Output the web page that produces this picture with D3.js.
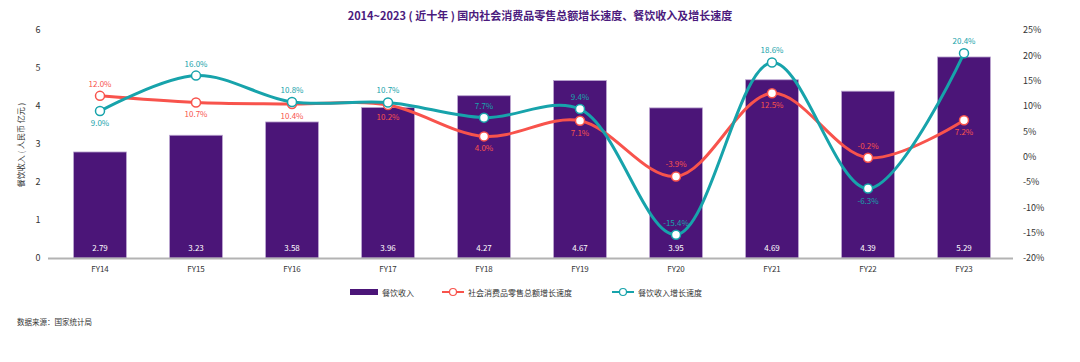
<!DOCTYPE html>
<html>
<head>
<meta charset="utf-8">
<script src="https://cdn.jsdelivr.net/npm/d3@7"></script>
<style>
  body { margin: 0; background: #fff; }
  svg text { font-family: "Noto Sans CJK SC", "Noto Sans", sans-serif; }
</style>
</head>
<body>
<div id="chart-area"></div>
<script>
// data
var years = ["FY14", "FY15", "FY16", "FY17", "FY18", "FY19", "FY20", "FY21", "FY22", "FY23"];
var revenue = [2.79, 3.23, 3.58, 3.96, 4.27, 4.67, 3.95, 4.69, 4.39, 5.29];
var retailGrowth = [12.0, 10.7, 10.4, 10.2, 4.0, 7.1, -3.9, 12.5, -0.2, 7.2];
var cateringGrowth = [9.0, 16.0, 10.8, 10.7, 7.7, 9.4, -15.4, 18.6, -6.3, 20.4];
var leftTicks = [0, 1, 2, 3, 4, 5, 6];
var rightTicks = [-20, -15, -10, -5, 0, 5, 10, 15, 20, 25];
// label side: 1 above, -1 below
var retailSide = [1, -1, -1, -1, -1, -1, 1, -1, 1, -1];
var cateringSide = [-1, 1, 1, 1, 1, 1, 1, 1, -1, 1];

var width = 1080, height = 362;
var purple = "#4b1578", red = "#f8534c", teal = "#17a3ab";

var svg = d3.select("#chart-area")
    .append("svg")
    .attr("width", width)
    .attr("height", height);

var x = d3.scaleBand().domain(years).range([52, 1012]).paddingInner(0.45).paddingOuter(0.225);
var y = d3.scaleLinear().domain([0, 6]).range([258, 30]);
var y2 = d3.scaleLinear().domain([-20, 25]).range([258, 30]);

// title
svg.append("text")
    .attr("x", 540).attr("y", 20)
    .attr("text-anchor", "middle")
    .attr("font-size", "11px")
    .attr("font-weight", "bold")
    .attr("fill", "#4b1a7d")
    .text("2014~2023 ( 近十年 ) 国内社会消费品零售总额增长速度、餐饮收入及增长速度");

// left axis
var leftAxis = svg.append("g")
    .attr("transform", "translate(44,0)")
    .call(d3.axisLeft(y).tickValues(leftTicks).tickSize(0).tickPadding(0).tickFormat(d3.format("d")));
leftAxis.select(".domain").remove();
leftAxis.selectAll("text").attr("font-size", "9px").attr("fill", "#333").attr("text-anchor", "middle").attr("dx", "-6");

// right axis
var rightAxis = svg.append("g")
    .attr("transform", "translate(1023,0)")
    .call(d3.axisRight(y2).tickValues(rightTicks).tickSize(0).tickPadding(0).tickFormat(function(d) { return d + "%"; }));
rightAxis.select(".domain").remove();
rightAxis.selectAll("text").attr("font-size", "9px").attr("fill", "#333");

// y title
svg.append("text")
    .attr("transform", "translate(24,145) rotate(-90)")
    .attr("text-anchor", "middle")
    .attr("font-size", "8px")
    .attr("fill", "#333")
    .text("餐饮收入 ( 人民币 亿元 )");

// bars
svg.selectAll("rect.bar").data(revenue).enter().append("rect")
    .attr("class", "bar")
    .attr("x", function(d, i) { return x(years[i]); })
    .attr("y", function(d) { return y(d); })
    .attr("width", x.bandwidth())
    .attr("height", function(d) { return y(0) - y(d); })
    .attr("fill", purple)
    .attr("stroke", "#b9a3cf")
    .attr("stroke-width", 0.8);

svg.selectAll("text.barlabel").data(revenue).enter().append("text")
    .attr("class", "barlabel")
    .attr("x", function(d, i) { return x(years[i]) + x.bandwidth() / 2; })
    .attr("y", 251)
    .attr("text-anchor", "middle")
    .attr("font-size", "8px")
    .attr("fill", "#fff")
    .text(function(d) { return d.toFixed(2); });

// baseline
svg.append("line")
    .attr("x1", 48).attr("x2", 1013)
    .attr("y1", 258.5).attr("y2", 258.5)
    .attr("stroke", "#b3b3b3").attr("stroke-width", 2);

// x labels
var xAxis = svg.append("g")
    .attr("transform", "translate(0,259)")
    .call(d3.axisBottom(x).tickSize(0).tickPadding(7));
xAxis.select(".domain").remove();
xAxis.selectAll("text").attr("font-size", "8px").attr("fill", "#333");

// lines
function drawSeries(values, sides, color) {
    var line = d3.line()
        .x(function(d, i) { return x(years[i]) + x.bandwidth() / 2; })
        .y(function(d) { return y2(d); })
        .curve(d3.curveCatmullRom.alpha(0.5));
    svg.append("path")
        .datum(values)
        .attr("d", line)
        .attr("fill", "none")
        .attr("stroke", color)
        .attr("stroke-width", 3);
    var g = svg.append("g");
    g.selectAll("circle").data(values).enter().append("circle")
        .attr("cx", function(d, i) { return x(years[i]) + x.bandwidth() / 2; })
        .attr("cy", function(d) { return y2(d); })
        .attr("r", 4.5)
        .attr("fill", "#fff")
        .attr("stroke", color)
        .attr("stroke-width", 1.5);
    g.selectAll("text").data(values).enter().append("text")
        .attr("x", function(d, i) { return x(years[i]) + x.bandwidth() / 2; })
        .attr("y", function(d, i) { return y2(d) + (sides[i] > 0 ? -9 : 15); })
        .attr("text-anchor", "middle")
        .attr("font-size", "8px")
        .attr("fill", color)
        .text(function(d) { return d.toFixed(1) + "%"; });
}
drawSeries(retailGrowth, retailSide, red);
drawSeries(cateringGrowth, cateringSide, teal);

// legend
var legend = svg.append("g").attr("transform", "translate(0,292)");
legend.append("rect").attr("x", 350).attr("y", -3).attr("width", 28).attr("height", 6).attr("fill", purple);
legend.append("text").attr("x", 382).attr("y", 3.5).attr("font-size", "8px").attr("fill", "#333").text("餐饮收入");
[[442, red, "社会消费品零售总额增长速度"], [612, teal, "餐饮收入增长速度"]].forEach(function(l) {
    legend.append("line").attr("x1", l[0]).attr("x2", l[0] + 22).attr("y1", 0).attr("y2", 0)
        .attr("stroke", l[1]).attr("stroke-width", 2);
    legend.append("circle").attr("cx", l[0] + 11).attr("cy", 0).attr("r", 3.5)
        .attr("fill", "#fff").attr("stroke", l[1]).attr("stroke-width", 1.2);
    legend.append("text").attr("x", l[0] + 26).attr("y", 3.5).attr("font-size", "8px").attr("fill", "#333").text(l[2]);
});

// source
svg.append("text")
    .attr("x", 17).attr("y", 325)
    .attr("font-size", "7.5px")
    .attr("fill", "#333")
    .text("数据来源：国家统计局");
</script>
</body>
</html>
